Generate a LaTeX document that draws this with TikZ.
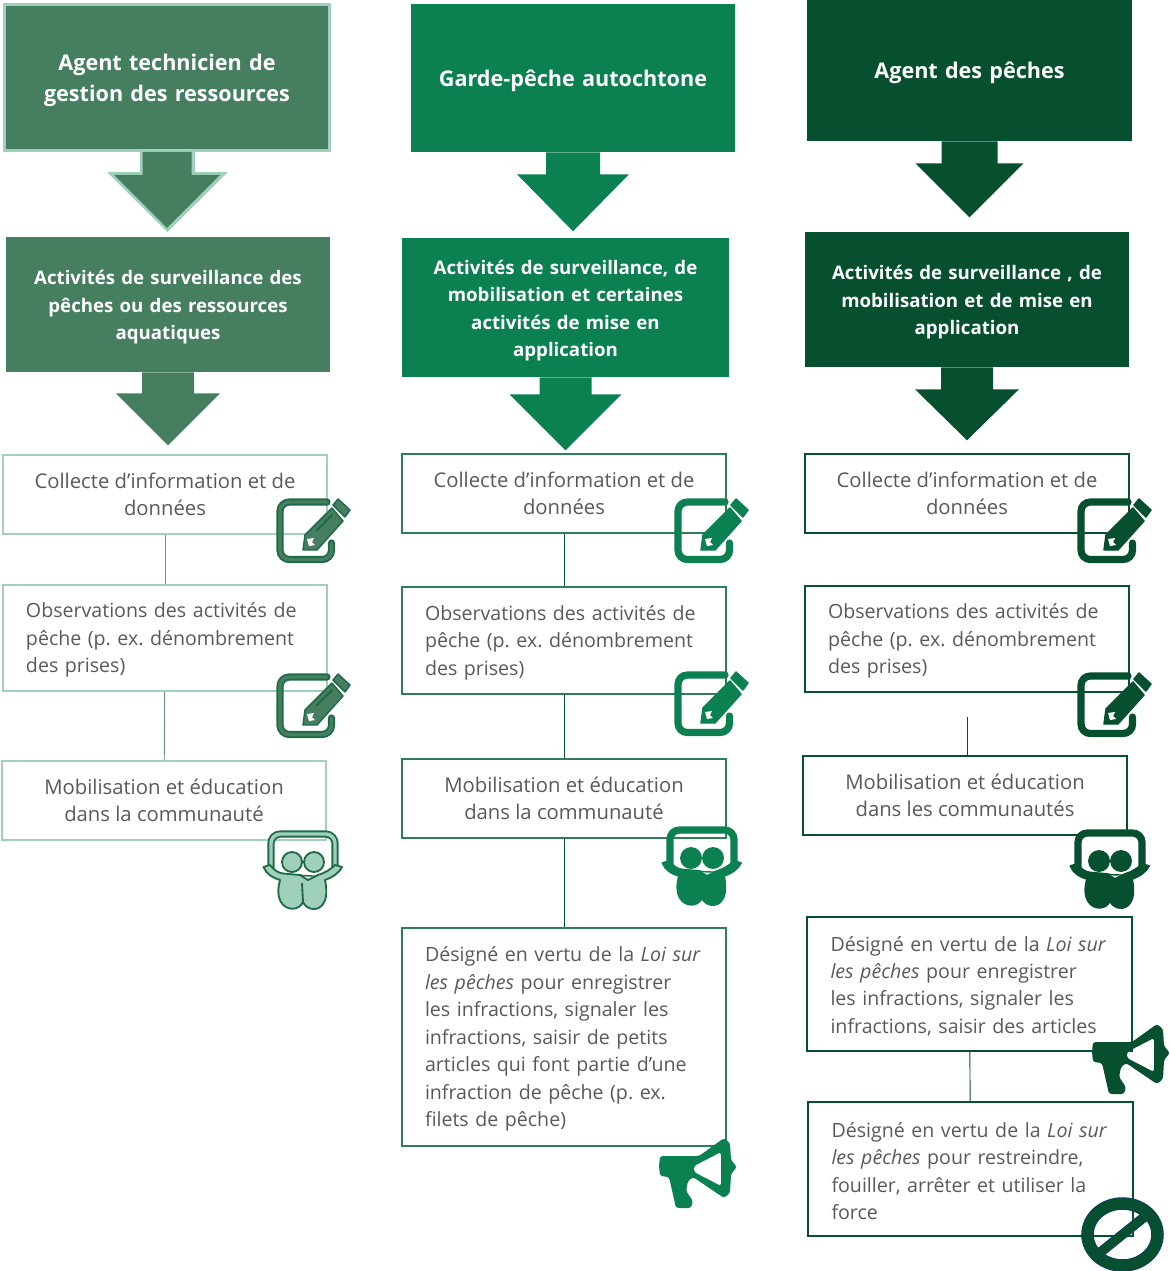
\documentclass[tikz,border=0pt]{standalone}
\usepackage{fontspec}
\setmainfont{Open Sans}
\definecolor{vertA}{HTML}{457F60}
\definecolor{vertAclair}{HTML}{A0CFBA}
\definecolor{vertAfonce}{HTML}{1F6B49}
\definecolor{vertB}{HTML}{0B8050}
\definecolor{vertBtrait}{HTML}{2F7D5B}
\definecolor{vertC}{HTML}{06502F}
\definecolor{marine}{HTML}{123F5E}
\definecolor{gristexte}{HTML}{595959}
\tikzset{%
	x=0.75pt, y=-0.75pt,
	taille/.style 2 args={minimum width=#1*0.75pt, minimum height=#2*0.75pt},
	titre/.style={inner sep=0pt, text width=310*0.75pt, align=center, text=white, font=\fontsize{16.2}{23.3}\selectfont\bfseries, execute at end node={\par\kern-4.5pt\relax}},
	activite/.style={inner sep=0pt, text width=310*0.75pt, align=center, text=white, font=\fontsize{14}{20.6}\selectfont\bfseries, execute at end node={\par\kern-4.5pt\relax}},
	boite/.style={draw, fill=white, inner sep=0pt, line width=1.5pt, text=gristexte, font=\fontsize{15.2}{20.6}\selectfont},
	centre/.style={boite, align=center},
	gauche/.style={boite, align=left, text width=278*0.75pt, font=\fontsize{14.7}{20.6}\selectfont, execute at begin node={\frenchspacing\hyphenpenalty=10000\rightskip=-40pt plus 1fil\relax}, execute at end node={\par\kern-3pt\relax}},
	lien/.style={line width=0.7pt},
	crayon/.pic={
		\draw[iconeTrait, line width=5.4pt, line cap=round, rounded corners=7] (50,5) -- (3,5) -- (3,62.5) -- (54.5,62.5) -- (54.5,46);
		\draw[iconeFond, line width=2.6pt, line cap=round, rounded corners=7] (50,5) -- (3,5) -- (3,62.5) -- (54.5,62.5) -- (54.5,46);
		\draw[iconeTrait, fill=iconeFond, line width=1.1pt, line join=round] (55,11) -- (66,24) -- (40,53) -- (26,53) -- (28,38) -- cycle;
		\draw[iconeTrait, fill=iconeFond, line width=1.1pt, line join=round] (61,2) -- (73,13) -- (68,20) -- (56,8) -- cycle;
		\draw[iconeTrait, line width=1.6pt, line cap=round] (40,33) -- (55,18);
		\fill[white] (30,42) -- (37,41) -- (35,45) -- (38,48) -- (32,49) -- cycle;
	},
	lecteurs/.pic={
		\draw[iconeTrait, line width=5.4pt, rounded corners=7] (8,42) -- (8,5) -- (72,5) -- (72,42);
		\draw[iconeFond, line width=2.6pt, rounded corners=7] (8,42) -- (8,5) -- (72,5) -- (72,42);
		\draw[iconeTrait, fill=iconeFond, line width=1.4pt] (29,33) circle (10);
		\draw[iconeTrait, fill=iconeFond, line width=1.4pt] (51,33) circle (10);
		\draw[iconeTrait, fill=iconeFond, line width=1.4pt, line join=round] (0.5,38) -- (7,36) .. controls (12,42) and (16,44) .. (20,44.5) -- (37,46) -- (45,51) -- (55,46) .. controls (62,44) and (68,40) .. (72,36) -- (79,38) .. controls (76,44) and (70,48) .. (62,51) .. controls (64,60) and (64,70) .. (60,75) .. controls (56,82) and (44,82) .. (40,73) .. controls (36,82) and (23,82) .. (18,73) .. controls (14,66) and (15,58) .. (17,51) .. controls (10,49) and (3,45) .. (0.5,38) -- cycle;
		\draw[iconeTrait, line width=1.4pt] (39,54) -- (40,73);
		\draw[iconeTrait, line width=1.1pt] (37,46) .. controls (42,47) and (48,47) .. (53,47);
	},
	megaphone/.pic={
		\fill[iconeFond, rounded corners=2, even odd rule] (0,28) -- (1,18) -- (40,18) -- (65,0) -- (71,5) -- (72,22) -- (78,29) -- (72,36) -- (71,55) -- (65,60) -- (34,39) -- (29,43) -- (27,53) -- (34,63) -- (32,70) -- (17,70) -- (10,39) -- (1,38) -- cycle
			(35,28) -- (62,14) -- (62,48) -- (35,34) -- cycle;
	},
}
\newcommand{\fleche}[6]{%
	\fill[#1] (#2) ++(-#3,0) -- ++(0,#4) -- ++(-#5+#3,0) -- ++(#5,#6) -- ++(#5,-#6) -- ++(-#5+#3,0) -- ++(0,-#4) -- cycle;
}
\begin{document}
\begin{tikzpicture}
	\useasboundingbox (0,0) rectangle (1170,1271);
	% colonne 1
	\colorlet{iconeTrait}{vertAfonce}
	\colorlet{iconeFond}{vertA}
	\node[titre, fill=vertA, draw=vertAclair, line width=2.2pt, taille={325}{146}] (agentA) at (167,77.5) {Agent technicien de\\gestion des ressources};
	\fill[vertAclair] (140,152) -- (140,172) -- (107,172) -- (167.5,232) -- (228,172) -- (195,172) -- (195,152) -- cycle;
	\fleche{vertA}{agentA.south}{24.5}{23}{53}{53}
	\node[activite, fill=vertA, taille={324}{135}] (activA) at (168,304.5) {Activités de surveillance des\\pêches ou des ressources\\aquatiques};
	\fleche{vertA}{activA.south}{26}{21}{52}{52}
	\node[centre, draw=vertAclair, taille={324}{79}] (collA) at (165,494.5) {Collecte d’information et de\\données};
	\node[gauche, draw=vertAclair, taille={324}{106}] (obsA) at (165,638) {Observations des activités de\\pêche (p. ex. dénombrement\\des prises)};
	\node[centre, draw=vertAclair, taille={324}{79}] (mobA) at (164,800.5) {Mobilisation et éducation\\dans la communauté};
	\draw[lien, vertAfonce!70] (collA) -- (obsA);
	\draw[lien, vertAfonce!70] (obsA) -- (mobA);
	\pic at (277,497) {crayon};
	\pic at (277,672) {crayon};
	\colorlet{iconeFond}{vertAclair}
	\pic at (263,829) {lecteurs};
	% colonne 2
	\colorlet{iconeTrait}{vertB}
	\colorlet{iconeFond}{vertB}
	\node[titre, fill=vertB, taille={324}{148}] (agentB) at (573,78) {Garde-pêche autochtone};
	\fleche{vertB}{agentB.south}{27}{22}{56}{57}
	\node[activite, fill=vertB, taille={327}{139}] (activB) at (565.5,307.5) {Activités de surveillance, de\\mobilisation et certaines\\activités de mise en\\application};
	\fleche{vertB}{activB.south}{26}{17}{56}{56}
	\node[centre, draw=vertBtrait, taille={324}{79}] (collB) at (564,493.5) {Collecte d’information et de\\données};
	\node[gauche, draw=vertBtrait, taille={324}{107}] (obsB) at (564,640.5) {Observations des activités de\\pêche (p. ex. dénombrement\\des prises)};
	\node[centre, draw=vertBtrait, taille={324}{79}] (mobB) at (564,798.5) {Mobilisation et éducation\\dans la communauté};
	\node[gauche, draw=vertBtrait, taille={324}{218}] (desB) at (564,1037) {Désigné en vertu de la \textit{Loi sur}\\\textit{les pêches} pour enregistrer\\les infractions, signaler les\\infractions, saisir de petits\\articles qui font partie d’une\\infraction de pêche (p. ex.\\filets de pêche)};
	\draw[lien, vertC] (collB) -- (obsB);
	\draw[lien, vertC] (obsB) -- (mobB);
	\draw[lien, vertC] (mobB) -- (desB);
	\pic at (675,497) {crayon};
	\pic at (675,670) {crayon};
	\pic at (662,825) {lecteurs};
	\pic at (659,1138) {megaphone};
	% colonne 3
	\colorlet{iconeTrait}{vertC}
	\colorlet{iconeFond}{vertC}
	\node[titre, fill=vertC, taille={325}{141}] (agentC) at (969.5,70.5) {Agent des pêches};
	\fleche{vertC}{agentC.south}{28}{22}{54}{54}
	\node[activite, fill=vertC, taille={324}{135}] (activC) at (967,299.5) {Activités de surveillance , de\\mobilisation et de mise en\\application};
	\fleche{vertC}{activC.south}{26}{22}{52}{51}
	\node[centre, draw=vertC, taille={324}{79}] (collC) at (967,493.5) {Collecte d’information et de\\données};
	\node[gauche, draw=vertC, taille={324}{106}] (obsC) at (967,639) {Observations des activités de\\pêche (p. ex. dénombrement\\des prises)};
	\node[centre, draw=vertC, taille={324}{79}] (mobC) at (965,795.5) {Mobilisation et éducation\\dans les communautés};
	\node[gauche, draw=vertC, taille={325}{134}] (desC) at (969.5,984) {Désigné en vertu de la \textit{Loi sur}\\\textit{les pêches} pour enregistrer\\les infractions, signaler les\\infractions, saisir des articles};
	\node[gauche, draw=vertC, taille={325}{134}] (forceC) at (970.5,1169) {Désigné en vertu de la \textit{Loi sur}\\\textit{les pêches} pour restreindre,\\fouiller, arrêter et utiliser la\\force};
	\coordinate (finObsC) at (967,717);
	\draw[lien, vertC] (finObsC) -- (mobC.north -| finObsC);
	\draw[lien, vertC] (desC) -- (forceC);
	\pic at (1078,497) {crayon};
	\pic at (1078,671) {crayon};
	\pic at (1070,828) {lecteurs};
	\pic at (1092,1024) {megaphone};
	\draw[marine, line width=9.4pt] (1122.5,1234.5) ellipse (35 and 31);
	\draw[vertC, line width=7.6pt] (1122.5,1234.5) ellipse (35 and 31);
	\draw[marine, line width=7.4pt] (1097,1255) -- (1148,1214);
	\draw[vertC, line width=5.8pt] (1097,1255) -- (1148,1214);
\end{tikzpicture}
\end{document}
